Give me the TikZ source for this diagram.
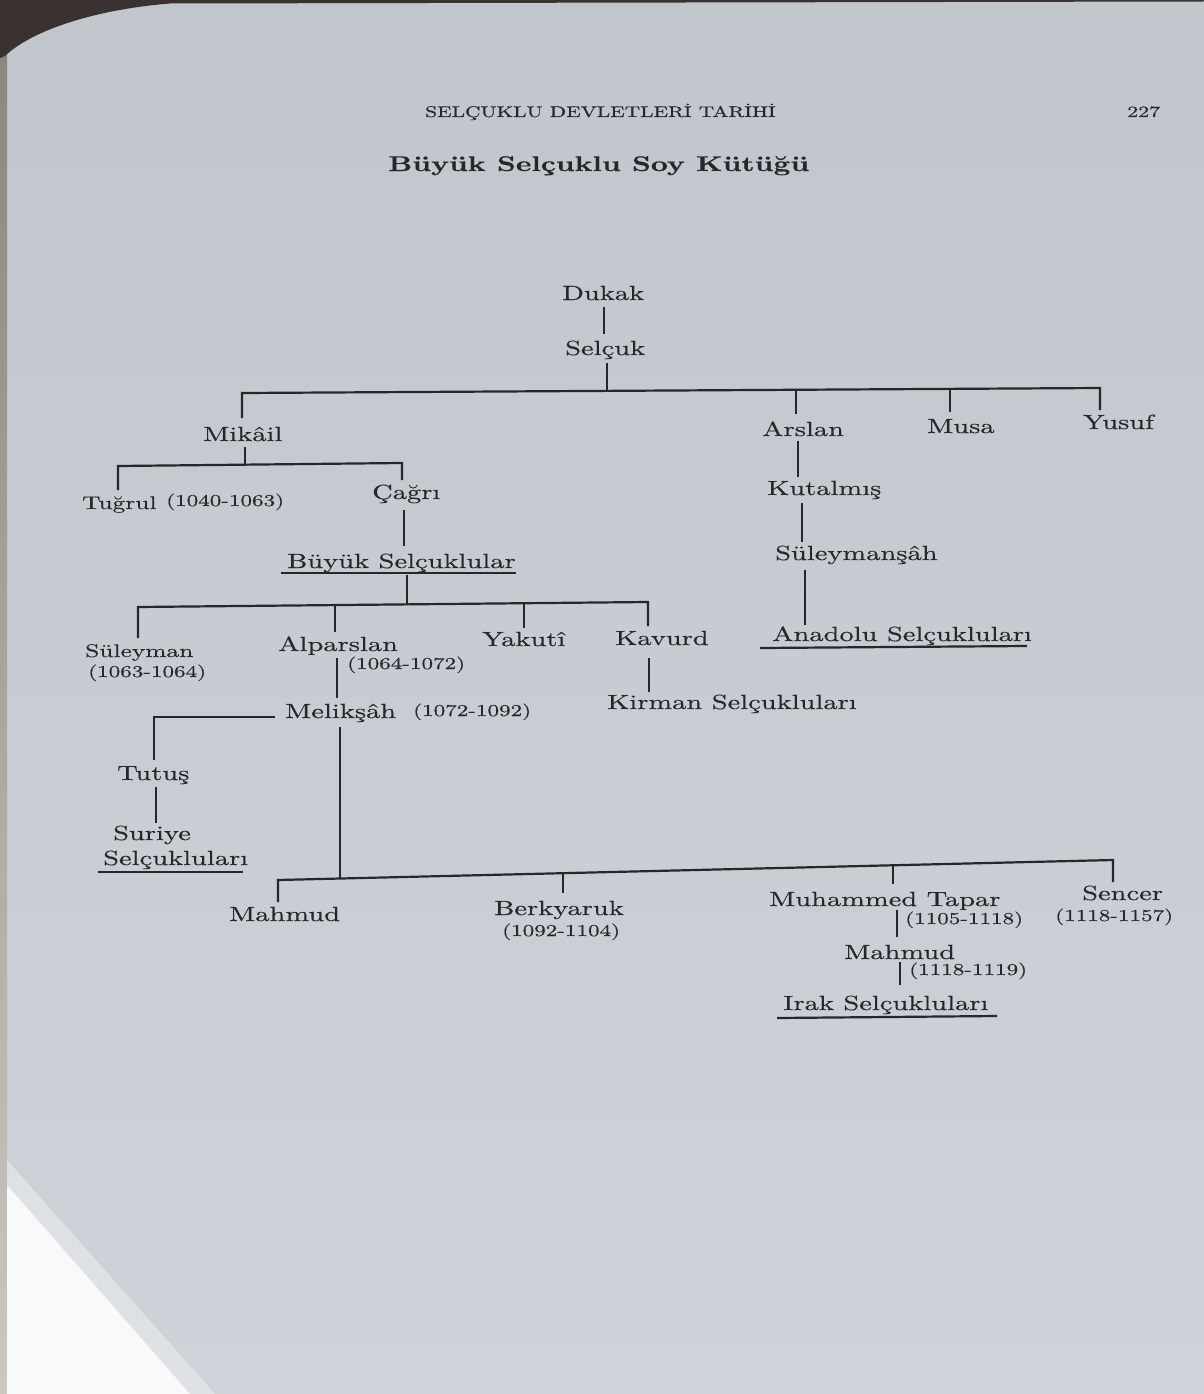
\documentclass[tikz,border=0pt]{standalone}
\usepackage{fontspec}
\setmainfont{lmroman10}[Extension=.otf, UprightFont=*-regular, BoldFont=*-bold, FakeStretch=1.39, FakeBold=0.35]
\definecolor{ink}{HTML}{26272A}
\definecolor{pagetop}{HTML}{C0C6CC}
\definecolor{pagebot}{HTML}{CDD3D8}
\definecolor{shadow}{HTML}{3A3230}
\definecolor{edge}{HTML}{8C8680}
\tikzset{
  nm/.style={anchor=base west, inner sep=0pt, text=ink, font=\fontsize{20.5}{24}\selectfont},
  sm/.style={nm, font=\fontsize{18.3}{22}\selectfont},
  dt/.style={nm, font=\fontsize{16.6}{20}\selectfont},
  ln/.style={draw=ink, line width=2.2pt},
}
\begin{document}
\begin{tikzpicture}[x=1pt, y=-1pt]
\useasboundingbox (0,0) rectangle (1204,1394);
% page background
\shade[top color=pagetop, bottom color=pagebot] (0,0) rectangle (1204,1394);
\shade[top color=edge, bottom color=pagebot!85!brown] (0,50) rectangle (7,1394);
\fill[shadow] (0,0) -- (1204,0) -- (1204,1.5) -- (170,3.5) .. controls (90,10) and (30,32) .. (5,56) -- (0,58) -- cycle;
\fill[white, opacity=0.35] (7,1160) -- (215,1394) -- (7,1394) -- cycle;
\fill[white, opacity=0.8] (7,1185) -- (190,1394) -- (7,1394) -- cycle;

% header
\node[nm, font=\fontsize{15.4}{18}\selectfont] (hdr) at (425,117) {SELÇUKLU DEVLETLERİ TARİHİ};
\node[nm, font=\fontsize{15.8}{18}\selectfont] (pg) at (1127,117) {227};
\node[nm, font=\bfseries\fontsize{21.2}{24}\selectfont] (title) at (388,171) {Büyük Selçuklu Soy Kütüğü};

% names
\node[nm] (dukak) at (562,300) {Dukak};
\node[nm] (selcuk) at (565,355) {Selçuk};
\node[nm] (mikail) at (203,441) {Mikâil};
\node[nm] (arslan) at (762,436) {Arslan};
\node[nm] (musa) at (927,433) {Musa};
\node[nm] (yusuf) at (1083,429) {Yusuf};
\node[sm] (tugrul) at (82,509) {Tuğrul};
\node[dt] (tugrulD) at (166,506) {(1040-1063)};
\node[nm] (cagri) at (372,499) {Çağrı};
\node[nm] (buyuk) at (287,568) {Büyük Selçuklular};
\node[sm] (suleyman) at (85,657) {Süleyman};
\node[dt] (suleymanD) at (88,677) {(1063-1064)};
\node[nm] (alparslan) at (278,651) {Alparslan};
\node[dt] (alparslanD) at (347,669) {(1064-1072)};
\node[nm] (yakuti) at (482,646) {Yakutî};
\node[nm] (kavurd) at (615,645) {Kavurd};
\node[nm] (kirman) at (607,709) {Kirman Selçukluları};
\node[nm] (kutalmis) at (767,495) {Kutalmış};
\node[nm] (suleymansah) at (775,560) {Süleymanşâh};
\node[nm] (anadolu) at (772,641) {Anadolu Selçukluları};
\node[nm] (meliksah) at (285,718) {Melikşâh};
\node[dt] (meliksahD) at (413,716) {(1072-1092)};
\node[nm] (tutus) at (117,780) {Tutuş};
\node[nm] (suriye) at (113,840) {Suriye};
\node[nm] (suriye2) at (103,865) {Selçukluları};
\node[nm] (mahmud) at (229,921) {Mahmud};
\node[nm] (berkyaruk) at (494,915) {Berkyaruk};
\node[dt] (berkyarukD) at (502,936) {(1092-1104)};
\node[nm] (muhammed) at (769,906) {Muhammed Tapar};
\node[dt] (muhammedD) at (905,924) {(1105-1118)};
\node[nm] (sencer) at (1082,900) {Sencer};
\node[dt] (sencerD) at (1055,921) {(1118-1157)};
\node[nm] (mahmudB) at (844,959) {Mahmud};
\node[dt] (mahmudBD) at (909,975) {(1118-1119)};
\node[nm] (irak) at (783,1010) {Irak Selçukluları};

% junction coordinates
\coordinate (dk1) at (604,307); \coordinate (dk2) at (604,334);
\coordinate (sc1) at (607,363); \coordinate (sc2) at (607,391);
\coordinate (tbL) at (242,393); \coordinate (tbR) at (1100,388);
\coordinate (tbA) at (796,389.8); \coordinate (tbM) at (950,388.9);
\coordinate (miT) at (242,418); \coordinate (arT) at (796,414);
\coordinate (muT) at (950,412); \coordinate (yuT) at (1100,410);
\coordinate (mi1) at (245,447); \coordinate (mi2) at (245,465);
\coordinate (mbL) at (118,466); \coordinate (mbR) at (402,463);
\coordinate (tuT) at (118,490); \coordinate (caT) at (402,480);
\coordinate (ca1) at (404,510); \coordinate (ca2) at (404,546);
\coordinate (bu1) at (407,575); \coordinate (bu2) at (407,604.4);
\coordinate (sbL) at (138,607); \coordinate (sbR) at (648,602);
\coordinate (sbA) at (335,605.1); \coordinate (sbY) at (524,603.1);
\coordinate (suT) at (138,638); \coordinate (alT) at (335,632);
\coordinate (yaT) at (524,628); \coordinate (kaT) at (648,626);
\coordinate (al1) at (337,658); \coordinate (al2) at (337,698);
\coordinate (ka1) at (649,658); \coordinate (ka2) at (649,692);
\coordinate (ar1) at (798,441); \coordinate (ar2) at (798,477);
\coordinate (ku1) at (802,503); \coordinate (ku2) at (802,542);
\coordinate (ss1) at (805,570); \coordinate (ss2) at (805,625);
\coordinate (meL) at (275,717); \coordinate (meC) at (154,717); \coordinate (tuB) at (154,760);
\coordinate (tu1) at (156,787); \coordinate (tu2) at (156,823);
\coordinate (me1) at (340,727); \coordinate (me2) at (340,878.5);
\coordinate (bbL) at (278,880); \coordinate (bbR) at (1113,860);
\coordinate (bbB) at (563,873.2); \coordinate (bbM) at (893,865.3);
\coordinate (maT) at (278,902); \coordinate (beT) at (563,893);
\coordinate (muhT) at (893,884); \coordinate (seT) at (1113,882);
\coordinate (mh1) at (897,910); \coordinate (mh2) at (897,937);
\coordinate (mb1) at (900,962); \coordinate (mb2) at (900,985);
\coordinate (ulB1) at (281,573); \coordinate (ulB2) at (516,573);
\coordinate (ulA1) at (760,648); \coordinate (ulA2) at (1027,646);
\coordinate (ulS1) at (98,872); \coordinate (ulS2) at (243,872);
\coordinate (ulI1) at (777,1018); \coordinate (ulI2) at (997,1016);

% connectors
\draw[ln] (dk1) -- (dk2);
\draw[ln] (sc1) -- (sc2);
\draw[ln] (miT) -- (tbL) -- (tbR) -- (yuT);
\draw[ln] (tbA) -- (arT);
\draw[ln] (tbM) -- (muT);
\draw[ln] (mi1) -- (mi2);
\draw[ln] (tuT) -- (mbL) -- (mbR) -- (caT);
\draw[ln] (ca1) -- (ca2);
\draw[ln] (bu1) -- (bu2);
\draw[ln] (suT) -- (sbL) -- (sbR) -- (kaT);
\draw[ln] (sbA) -- (alT);
\draw[ln] (sbY) -- (yaT);
\draw[ln] (al1) -- (al2);
\draw[ln] (ka1) -- (ka2);
\draw[ln] (ar1) -- (ar2);
\draw[ln] (ku1) -- (ku2);
\draw[ln] (ss1) -- (ss2);
\draw[ln] (meL) -- (meC) -- (tuB);
\draw[ln] (tu1) -- (tu2);
\draw[ln] (me1) -- (me2);
\draw[ln] (maT) -- (bbL) -- (bbR) -- (seT);
\draw[ln] (bbB) -- (beT);
\draw[ln] (bbM) -- (muhT);
\draw[ln] (mh1) -- (mh2);
\draw[ln] (mb1) -- (mb2);

% underlines
\draw[ln] (ulB1) -- (ulB2);
\draw[ln] (ulA1) -- (ulA2);
\draw[ln] (ulS1) -- (ulS2);
\draw[ln] (ulI1) -- (ulI2);
\end{tikzpicture}
\end{document}
